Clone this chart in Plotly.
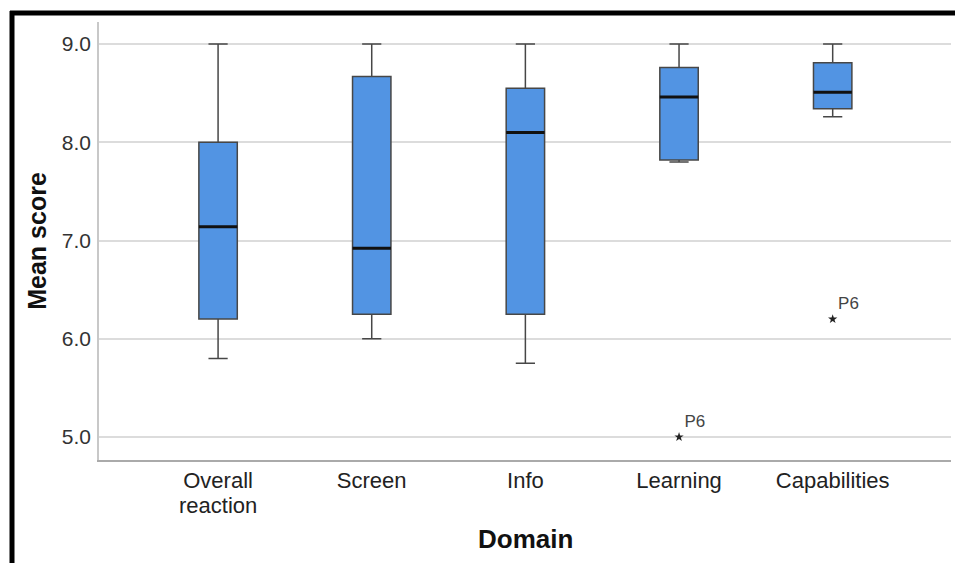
import plotly.graph_objects as go

categories = ["Overall reaction", "Screen", "Info", "Learning", "Capabilities"]
upper = [9.0, 9.0, 9.0, 9.0, 9.0]
q3 = [8.0, 8.67, 8.55, 8.76, 8.81]
median = [7.14, 6.92, 8.10, 8.46, 8.51]
q1 = [6.20, 6.25, 6.25, 7.82, 8.34]
lower = [5.80, 6.0, 5.75, 7.80, 8.26]

outlier_idx = [3, 4]
outlier_val = [5.0, 6.20]
outlier_lab = ["P6", "P6"]

y_ticks = [5.0, 6.0, 7.0, 8.0, 9.0]

pos = list(range(len(categories)))
box_w = 0.25

# first line of each label on the axis, any second line as a tight annotation
first_lines = [c.split(" ", 1)[0] if " " in c else c for c in categories]
second_lines = [c.split(" ", 1)[1] if " " in c else "" for c in categories]

fig = go.Figure()
fig.add_trace(go.Box(
    x=pos, q1=q1, median=median, q3=q3,
    lowerfence=lower, upperfence=upper,
    fillcolor="#5294E3",
    line=dict(color="#474747", width=1.5),
    width=box_w, whiskerwidth=0.5,
    boxpoints=False, showlegend=False, hoverinfo="skip",
))
mx, my = [], []
for p, m in zip(pos, median):
    mx += [p - box_w / 2, p + box_w / 2, None]
    my += [m, m, None]
fig.add_trace(go.Scatter(x=mx, y=my, mode="lines", line=dict(color="#111", width=3),
                         showlegend=False, hoverinfo="skip"))
fig.add_trace(go.Scatter(
    x=outlier_idx, y=outlier_val, mode="markers+text",
    marker=dict(symbol="star", size=7, color="#222"),
    text=outlier_lab, textposition="top right",
    textfont=dict(family="Liberation Sans, Arial", size=17, color="#444"),
    showlegend=False, hoverinfo="skip",
))

W, H = 955, 563
ml, mr, mt, mb = 99, 4, 22, 103
pw, ph = W - ml - mr, H - mt - mb

def px(x):
    return (x - ml) / pw

def py(y):
    return (H - mb - y) / ph

annotations = []
for p, s in zip(pos, second_lines):
    if s:
        annotations.append(dict(x=p, xref="x", y=py(505), yref="paper", text=s,
                                showarrow=False, yanchor="middle", xanchor="center",
                                font=dict(size=22, color="#222")))

fig.update_layout(
    width=W, height=H,
    margin=dict(l=ml, r=mr, t=mt, b=mb),
    paper_bgcolor="white", plot_bgcolor="white",
    font=dict(family="Liberation Sans, Arial", color="#222"),
    xaxis=dict(
        range=[-0.775, 4.77], showgrid=False, zeroline=False,
        tickvals=pos, ticktext=first_lines,
        showline=True, linecolor="#aaa", linewidth=2,
        ticks="", tickfont=dict(size=22, color="#222"),
        fixedrange=True,
    ),
    yaxis=dict(
        range=[4.766, 9.224], tickvals=y_ticks, ticktext=[f"{v:.1f}" for v in y_ticks],
        showgrid=True, gridcolor="#dcdcdc", gridwidth=2,
        showline=True, linecolor="#c8c8c8", linewidth=1.5,
        ticks="", ticklabelstandoff=2,
        tickfont=dict(size=21, color="#333"),
        title=dict(text="<b>Mean score</b>", font=dict(size=25, color="#111"), standoff=8),
        zeroline=False, fixedrange=True,
    ),
    annotations=annotations + [
        dict(x=0.5, xref="paper", y=py(539), yref="paper", text="<b>Domain</b>",
             showarrow=False, yanchor="middle", font=dict(size=26, color="#111")),
    ],
    shapes=[
        dict(type="line", xref="paper", yref="paper", x0=px(12), x1=px(12), y0=py(11), y1=py(H),
             line=dict(color="black", width=5)),
        dict(type="line", xref="paper", yref="paper", x0=px(10), x1=px(W), y0=py(13), y1=py(13),
             line=dict(color="black", width=5)),
    ],
)

fig.write_html(
    "out.html",
    config={"displayModeBar": False},
    post_script="document.body.style.margin='0';document.body.style.overflow='hidden';",
)
